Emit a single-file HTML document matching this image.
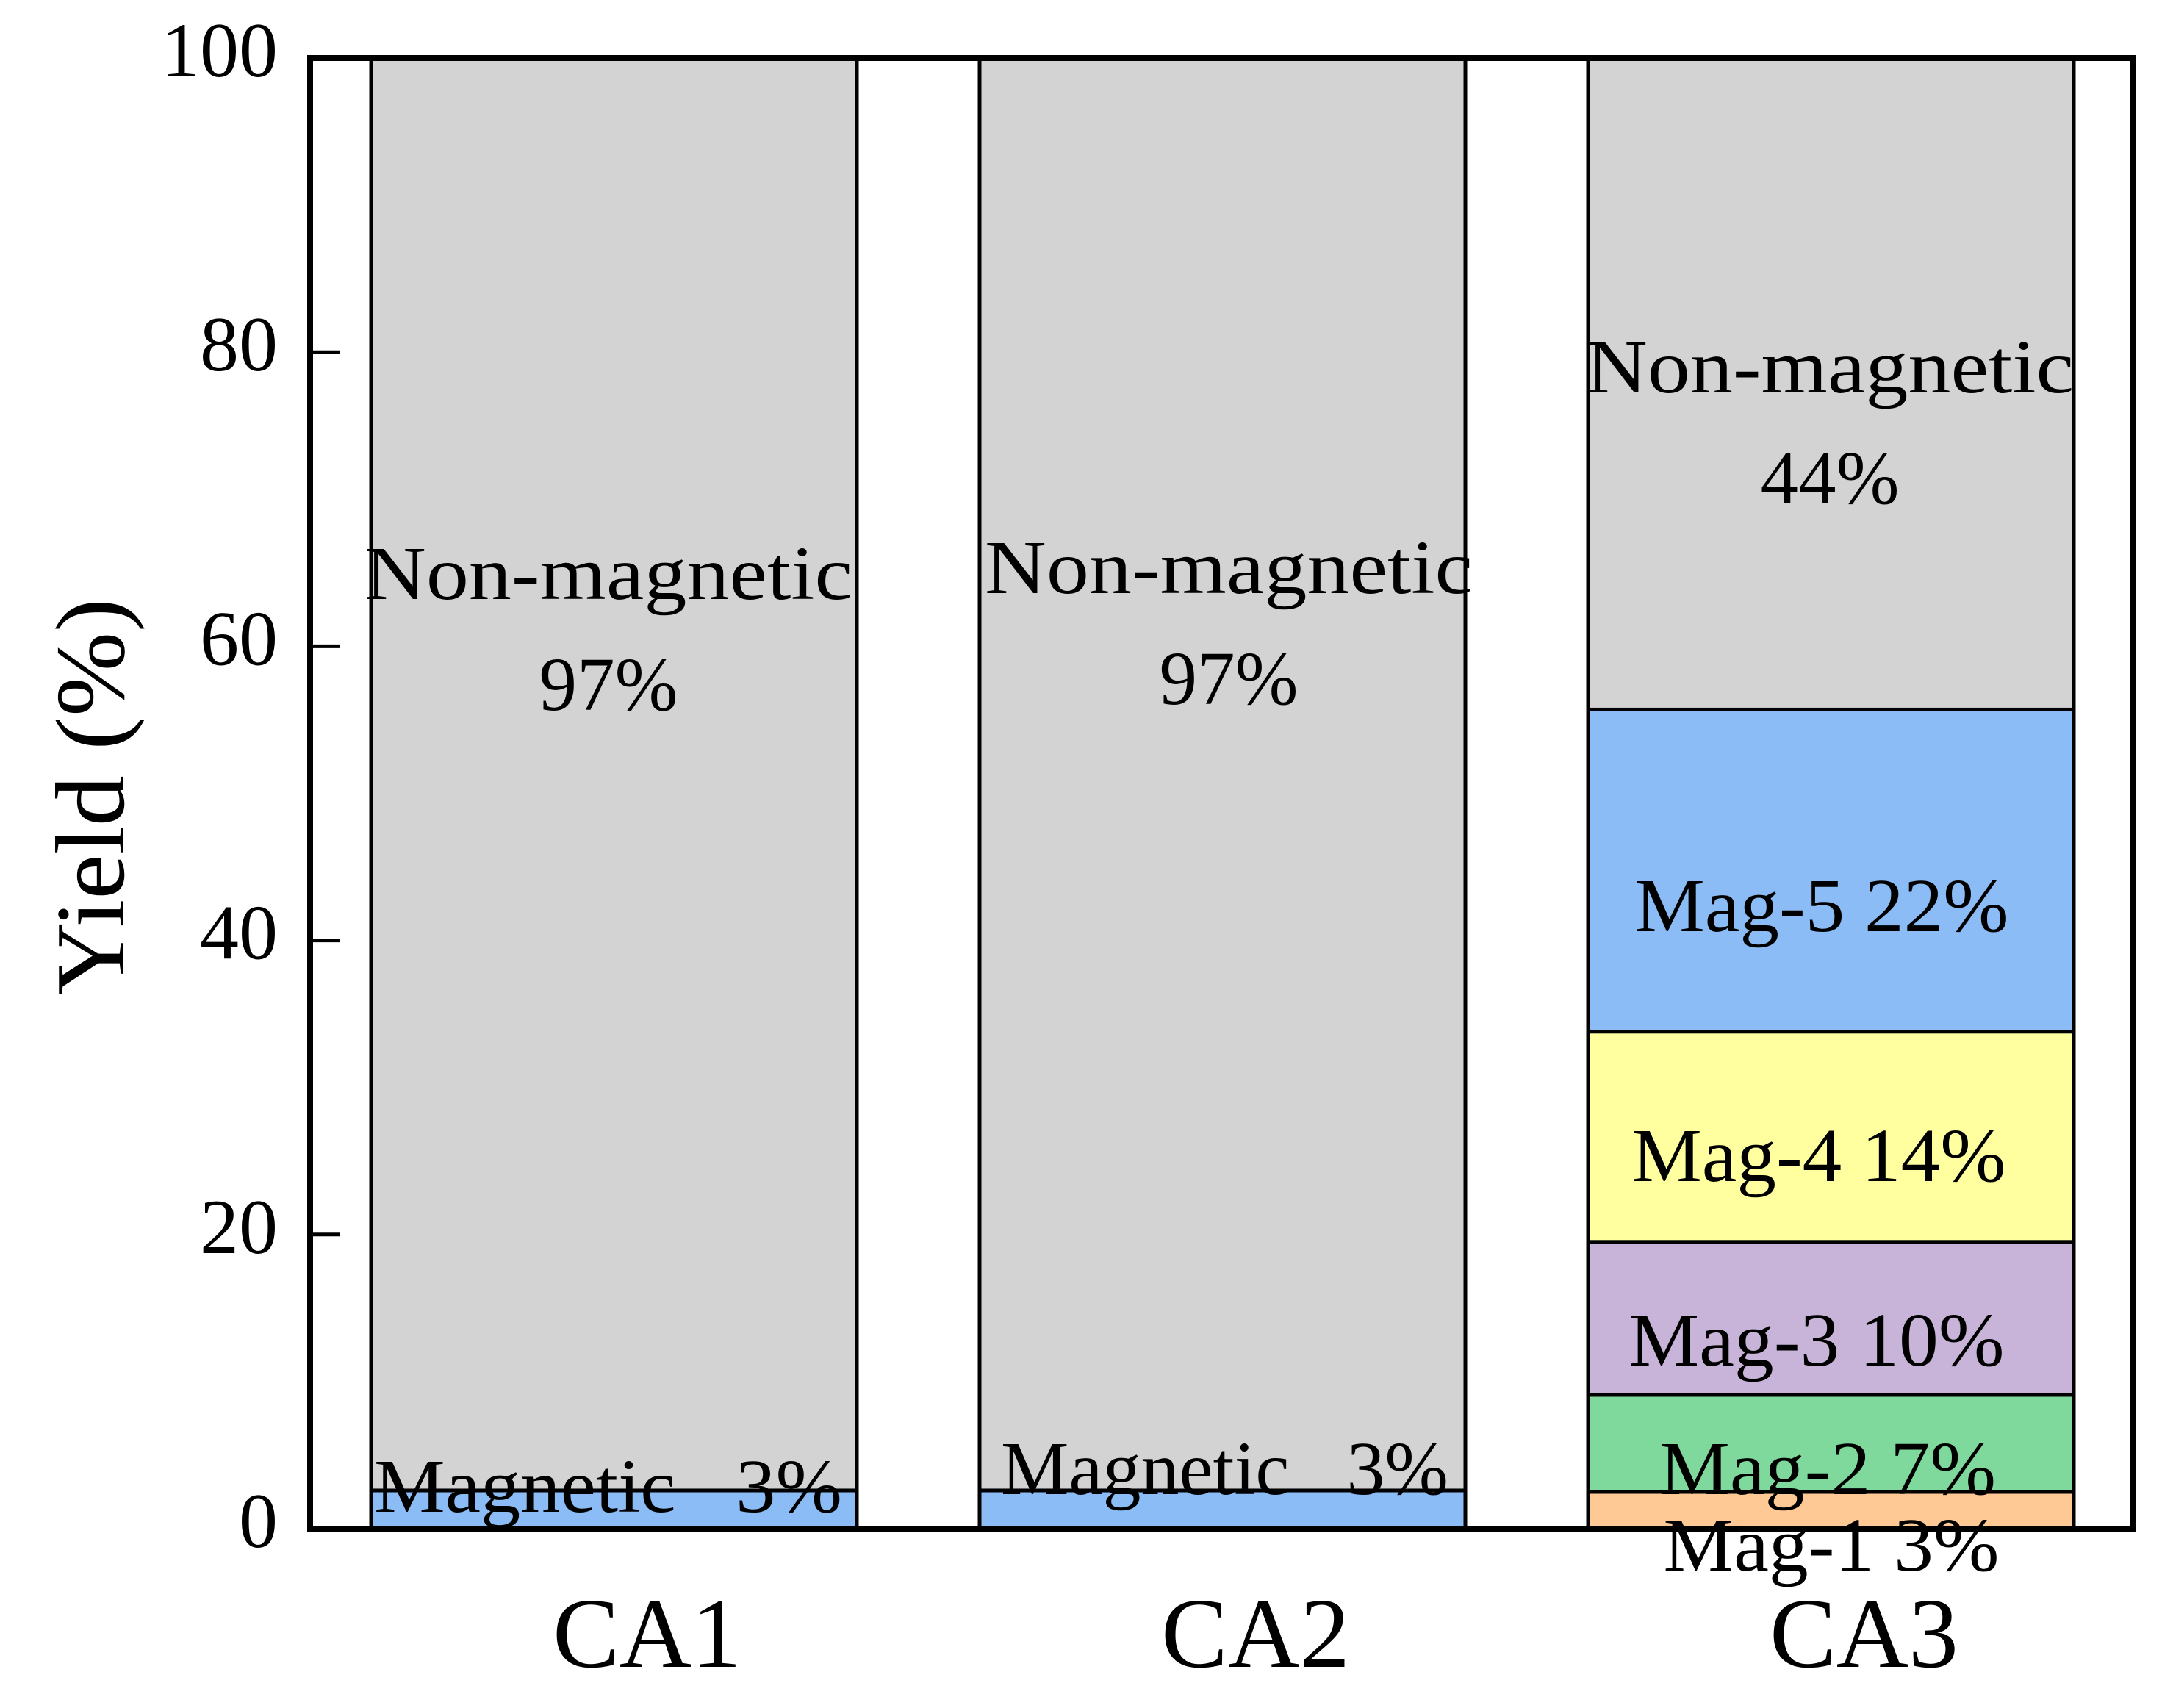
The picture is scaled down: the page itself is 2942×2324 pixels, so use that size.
<!DOCTYPE html>
<html><head><meta charset="utf-8"><style>
html,body{margin:0;padding:0;background:#fff;}
svg{display:block;font-family:"Liberation Serif",serif;}
text{white-space:pre;}
</style></head><body>
<svg id="chart" width="2942" height="2324" viewBox="0 0 2942 2324" xmlns="http://www.w3.org/2000/svg" xml:space="preserve">
<g id="bars"></g>
<g id="labels"></g>
<rect x="422" y="79" width="2481" height="2001" fill="none" stroke="#000" stroke-width="8"/>
<g id="yaxis"></g>
<g id="xaxis"></g>
<text transform="translate(168,1084) rotate(-90)" text-anchor="middle" font-size="134" textLength="540" lengthAdjust="spacingAndGlyphs">Yield (%)</text>
</svg>
<script>
const categories = ["CA1","CA2","CA3"];
const segNames = ["Magnetic / Mag-1","Mag-2","Mag-3","Mag-4","Mag-5","Non-magnetic"];
const seg1 = [2.6, 2.6, 2.5];
const seg2 = [0, 0, 6.6];
const seg3 = [0, 0, 10.4];
const seg4 = [0, 0, 14.3];
const seg5 = [0, 0, 21.9];
const seg6 = [97.4, 97.4, 44.3];
const segColors = ["#8bbcf5","#80d99c","#c8b4d8","#ffffa0","#8bbcf5","#d3d3d3"];
const ca3Colors = ["#ffc995","#80d99c","#c8b4d8","#ffffa0","#8bbcf5","#d3d3d3"];
const yTicks = [0,20,40,60,80,100];

const NS="http://www.w3.org/2000/svg";
const y0=2080, y1=79, x0=422;
const yS=v=>y0-(y0-y1)*v/100;
const barW=661, step=828, firstLeft=505;
const xL=i=>firstLeft+i*step;
const xC=i=>xL(i)+barW/2;
function mk(tag,attrs,parent){const e=document.createElementNS(NS,tag);for(const k in attrs)e.setAttribute(k,attrs[k]);parent.appendChild(e);return e;}

const bars=document.getElementById('bars');
const series=[seg1,seg2,seg3,seg4,seg5,seg6];
categories.forEach((c,i)=>{
  let cum=0;
  series.forEach((s,j)=>{
    const v=s[i]; if(v<=0) return;
    const r=mk('rect',{x:xL(i),y:yS(cum+v),width:barW,height:yS(cum)-yS(cum+v),fill:(i===2?ca3Colors:segColors)[j],stroke:'#000','stroke-width':5},bars);
    
    
    cum+=v;
  });
});

const ya=document.getElementById('yaxis');
yTicks.forEach(t=>{
  const y=yS(t);
  if(t>0&&t<100){const l=mk('line',{x1:x0,x2:x0+40,y1:y,y2:y,stroke:'#000','stroke-width':5},ya);
  
  }
  const tx=mk('text',{x:378,y:y+25,'text-anchor':'end','font-size':106},ya);
  tx.textContent=t;
  
  
});
const xa=document.getElementById('xaxis');
categories.forEach((c,i)=>{
  const tx=mk('text',{x:xC(i)+45,y:2268,'text-anchor':'middle','font-size':136},xa);
  tx.textContent=c;
  
  
});

const lab=document.getElementById('labels');
function L(txt,x,y,len,name,anchor){
  const t=mk('text',{x:x,y:y,'text-anchor':anchor||'middle','font-size':104,textLength:len,lengthAdjust:'spacingAndGlyphs'},lab);
  t.textContent=txt;
  
  
}
L("Non-magnetic",828,815,664,'ca1-nonmag-label');
L("97%",828,966,189,'ca1-nonmag-pct');
L("Non-magnetic",1672,807,664,'ca2-nonmag-label');
L("97%",1672,958,189,'ca2-nonmag-pct');
L("Non-magnetic",2490,534,664,'ca3-nonmag-label');
L("44%",2490,685,189,'ca3-nonmag-pct');
L("Magnetic   3%",509,2057,637,'ca1-mag-label','start');
L("Magnetic   3%",1362,2033,609,'ca2-mag-label','start');
L("Mag-5 22%",2479,1267,509,'mag5-label');
L("Mag-4 14%",2475,1607,509,'mag4-label');
L("Mag-3 10%",2472,1858,511,'mag3-label');
L("Mag-2 7%",2487,2033,458,'mag2-label');
L("Mag-1 3%",2492,2137,457,'mag1-label');
</script>
</body></html>
